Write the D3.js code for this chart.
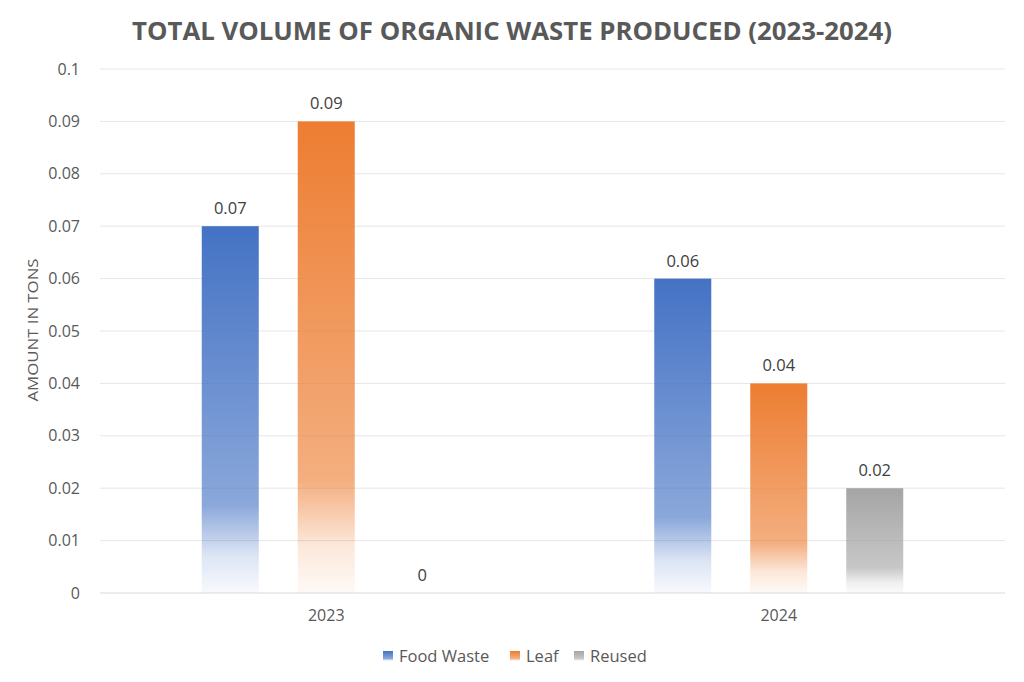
<!DOCTYPE html>
<html>
<head>
<meta charset="utf-8">
<script src="https://cdn.jsdelivr.net/npm/d3@7"></script>
<style>
  body { margin: 0; background: #fff; }
  text { font-family: "Open Sans", "Noto Sans", sans-serif; }
</style>
</head>
<body>
<div id="chart"></div>
<script>
// Chart data
const years = ['2023', '2024'];
const seriesNames = ['Food Waste', 'Leaf', 'Reused'];
const foodWaste = [0.07, 0.06];
const leaf = [0.09, 0.04];
const reused = [0, 0.02];
const yTicks = [0, 0.01, 0.02, 0.03, 0.04, 0.05, 0.06, 0.07, 0.08, 0.09, 0.1];
const seriesColors = ['#4472C4', '#ED7D31', '#A5A5A5'];

const width = 1024;
const height = 682;
const margin = {top: 69, right: 19, bottom: 89, left: 100};

const svg = d3.select('#chart')
    .append('svg')
    .attr('width', width)
    .attr('height', height);

// Gradients like the Excel fill
const defs = svg.append('defs');
seriesColors.forEach((c, i) => {
    const g = defs.append('linearGradient')
        .attr('id', 'grad' + i)
        .attr('x1', 0).attr('y1', 0)
        .attr('x2', 0).attr('y2', 1);
    g.append('stop').attr('offset', '0%').attr('stop-color', c).attr('stop-opacity', 1);
    g.append('stop').attr('offset', '76%').attr('stop-color', c).attr('stop-opacity', 0.62);
    g.append('stop').attr('offset', '90%').attr('stop-color', c).attr('stop-opacity', 0.18);
    g.append('stop').attr('offset', '100%').attr('stop-color', c).attr('stop-opacity', 0.04);
});

const x0 = d3.scaleBand()
    .domain(years)
    .range([margin.left, width - margin.right])
    .padding(0);

const x1 = d3.scaleBand()
    .domain(seriesNames)
    .range([0, x0.bandwidth()])
    .paddingInner(0.406)
    .paddingOuter(1.06);

const y = d3.scaleLinear()
    .domain([0, 0.1])
    .range([height - margin.bottom, margin.top]);

// Gridlines
svg.append('g')
    .selectAll('line')
    .data(yTicks)
    .enter()
    .append('line')
    .attr('x1', margin.left)
    .attr('x2', width - margin.right)
    .attr('y1', d => y(d))
    .attr('y2', d => y(d))
    .attr('stroke', d => d === 0 ? '#d9d9d9' : '#e6e6e6')
    .attr('stroke-width', 1);

// Y axis labels
const yAxis = svg.append('g')
    .attr('transform', `translate(${margin.left - 17},0)`)
    .call(d3.axisLeft(y).tickValues(yTicks).tickSize(0).tickFormat(d => d3.format('')(+d.toFixed(2))));
yAxis.select('.domain').remove();
yAxis.selectAll('text')
    .style('font-size', '16px')
    .style('fill', '#595959');

// X axis labels
const xAxis = svg.append('g')
    .attr('transform', `translate(0,${height - margin.bottom + 14})`)
    .call(d3.axisBottom(x0).tickSize(0));
xAxis.select('.domain').remove();
xAxis.selectAll('text')
    .style('font-size', '16px')
    .style('fill', '#595959');

// Bars
const rows = years.map((yr, i) => ({
    year: yr,
    values: [foodWaste[i], leaf[i], reused[i]]
}));

const groups = svg.selectAll('.year-group')
    .data(rows)
    .enter()
    .append('g')
    .attr('transform', d => `translate(${x0(d.year)},0)`);

groups.selectAll('rect')
    .data(d => d.values.map((v, i) => ({name: seriesNames[i], value: v, idx: i})))
    .enter()
    .append('rect')
    .attr('x', d => x1(d.name))
    .attr('y', d => y(d.value))
    .attr('width', x1.bandwidth())
    .attr('height', d => y(0) - y(d.value))
    .attr('fill', d => `url(#grad${d.idx})`);

groups.selectAll('.bar-label')
    .data(d => d.values.map((v, i) => ({name: seriesNames[i], value: v})))
    .enter()
    .append('text')
    .attr('class', 'bar-label')
    .attr('x', d => x1(d.name) + x1.bandwidth() / 2)
    .attr('y', d => y(d.value) - 12)
    .attr('text-anchor', 'middle')
    .style('font-size', '16.5px')
    .style('fill', '#404040')
    .text(d => d.value);

// Title
svg.append('text')
    .attr('x', 512)
    .attr('y', 40)
    .attr('text-anchor', 'middle')
    .attr('textLength', 760)
    .attr('lengthAdjust', 'spacingAndGlyphs')
    .style('font-size', '25px')
    .style('font-weight', 'bold')
    .style('fill', '#595959')
    .text('TOTAL VOLUME OF ORGANIC WASTE PRODUCED (2023-2024)');

// Y axis title
svg.append('text')
    .attr('transform', `translate(38,${(y(0) + y(0.1)) / 2 - 1}) rotate(-90)`)
    .attr('text-anchor', 'middle')
    .attr('textLength', 143)
    .attr('lengthAdjust', 'spacingAndGlyphs')
    .style('font-size', '14px')
    .style('fill', '#595959')
    .text('AMOUNT IN TONS');

// Legend
const legendX = [383, 510, 574];
const legend = svg.append('g')
    .attr('transform', 'translate(0,656)');
seriesNames.forEach((name, i) => {
    const item = legend.append('g')
        .attr('transform', `translate(${legendX[i]},0)`);
    item.append('rect')
        .attr('x', 0)
        .attr('y', -5)
        .attr('width', 10)
        .attr('height', 10)
        .attr('fill', `url(#grad${i})`);
    item.append('text')
        .attr('x', 16)
        .attr('y', 6)
        .style('font-size', '16.5px')
        .style('fill', '#595959')
        .text(name);
});
</script>
</body>
</html>
